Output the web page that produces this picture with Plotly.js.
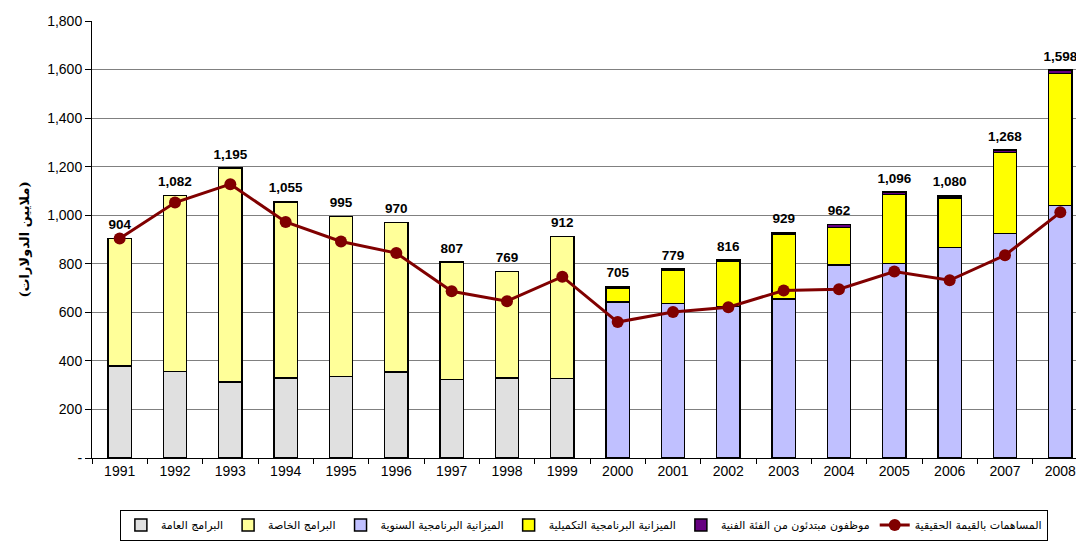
<!DOCTYPE html>
<html>
<head>
<meta charset="utf-8">
<script src="https://cdn.plot.ly/plotly-3.0.1.min.js"></script>
<style>
html,body{margin:0;padding:0;overflow:hidden;background:#fff;}
#chart{width:1090px;height:547px;}
</style>
</head>
<body>
<div id="chart"></div>
<script>
const years = ['1991','1992','1993','1994','1995','1996','1997','1998','1999','2000','2001','2002','2003','2004','2005','2006','2007','2008'];
const generalPrograms = [378,357,314,330,336,354,323,329,328,null,null,null,null,null,null,null,null,null];
const specialPrograms = [526,725,881,725,659,616,484,440,584,null,null,null,null,null,null,null,null,null];
const annualBudget = [null,null,null,null,null,null,null,null,null,642,636,624,654,794,801,867,925,1041];
const supplementaryBudget = [null,null,null,null,null,null,null,null,null,56,136,185,268,156,284,204,333,542];
const juniorProfessionals = [null,null,null,null,null,null,null,null,null,7,7,7,7,12,11,9,10,15];
const realValue = [904,1052,1128,972,892,844,687,646,747,560,601,621,690,695,768,732,835,1012];
const totals = [904,1082,1195,1055,995,970,807,769,912,705,779,816,929,962,1096,1080,1268,1598];
const yTickVals = [0,200,400,600,800,1000,1200,1400,1600,1800];
const yTickText = ['-','200','400','600','800','1,000','1,200','1,400','1,600','1,800'];

const names = {
  g: 'البرامج العامة',
  s: 'البرامج الخاصة',
  a: 'الميزانية البرنامجية السنوية',
  sup: 'الميزانية البرنامجية التكميلية',
  j: 'موظفون مبتدئون من الفئة الفنية',
  r: 'المساهمات بالقيمة الحقيقية'
};

function bar(y, name, color){
  return {type:'bar', x:years, y:y, name:name,
    marker:{color:color, line:{color:'#000', width:1.5}},
    hoverinfo:'skip'};
}

const traces = [
  bar(generalPrograms, names.g, '#E0E0E0'),
  bar(specialPrograms, names.s, '#FFFF99'),
  bar(annualBudget, names.a, '#C0C0FF'),
  bar(supplementaryBudget, names.sup, '#FFFF00'),
  bar(juniorProfessionals, names.j, '#660080'),
  {type:'scatter', mode:'lines+markers', x:years, y:realValue, name:names.r,
   line:{color:'#800000', width:3}, marker:{color:'#800000', size:12},
   hoverinfo:'skip'},
  {type:'scatter', mode:'markers+text', x:years, y:totals, showlegend:false,
   marker:{size:8, opacity:0, color:'#fff'},
   text: totals.map(v => '<b>' + v.toLocaleString('en-US') + '</b>'),
   textposition:'top center', cliponaxis:false,
   textfont:{family:'Liberation Sans, Arial, sans-serif', size:13.5, color:'#000'},
   hoverinfo:'skip'}
];

const layout = {
  width:1090, height:547,
  margin:{l:92, r:2, t:21, b:89},
  paper_bgcolor:'#fff', plot_bgcolor:'#fff',
  barmode:'stack', bargap:0.58,
  showlegend:true,
  font:{family:'Liberation Sans, Arial, sans-serif', size:14, color:'#000'},
  xaxis:{type:'category', range:[-0.5, 17.5], autorange:false,
    showline:true, linecolor:'#000', linewidth:1,
    ticks:'outside', tickson:'boundaries', ticklen:5, tickcolor:'#000',
    showgrid:false, tickfont:{size:14}},
  yaxis:{range:[0,1800], autorange:false, tickvals:yTickVals, ticktext:yTickText,
    showline:true, linecolor:'#000', linewidth:1, ticks:'outside', ticklen:6, tickcolor:'#000',
    showgrid:true, gridcolor:'#808080', gridwidth:1, zeroline:false,
    tickfont:{size:14},
    title:{text:'<b>(ملايين الدولارات)</b>', font:{family:'DejaVu Serif, DejaVu Sans, serif', size:13}, standoff:14}},
  legend:{orientation:'h', x:0.028, y:-0.118, xanchor:'left', yanchor:'top',
    bordercolor:'#000', borderwidth:1, bgcolor:'#fff',
    font:{family:'DejaVu Sans, serif', size:11},
    traceorder:'normal', itemwidth:30}
};

Plotly.newPlot('chart', traces, layout, {displayModeBar:false, staticPlot:true});
</script>
</body>
</html>
